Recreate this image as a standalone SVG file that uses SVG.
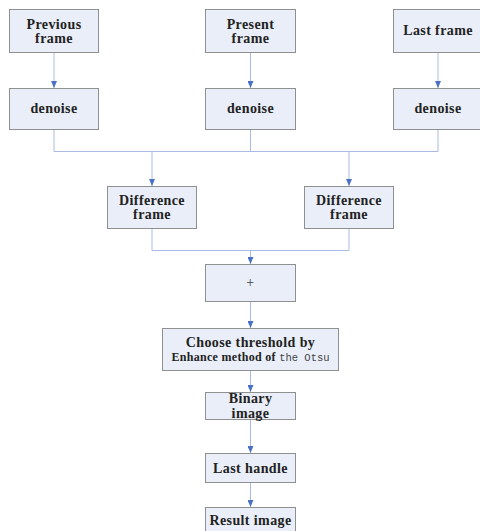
<svg xmlns="http://www.w3.org/2000/svg" width="480" height="531" viewBox="0 0 480 531">
<style>
.box{fill:#e9eef8;stroke:#8f8f8f;stroke-width:1}
.t{font-family:"Liberation Serif",serif;font-weight:bold;font-size:14px;letter-spacing:0.4px;fill:#222;text-anchor:middle}
.s{font-size:12px;letter-spacing:0.3px}
.m{font-family:"Liberation Mono",monospace;font-weight:normal;font-size:10.5px;letter-spacing:0;fill:#444}
.c{fill:none;stroke:#a9bbe2;stroke-width:1}
</style>
<defs>
<marker id="ah" markerWidth="7" markerHeight="6" refX="7" refY="3" orient="auto" markerUnits="userSpaceOnUse">
<path d="M0,0 L7,3 L0,6 Z" fill="#4a72c2"/>
</marker>
</defs>
<g id="connectors">
<line class="c" x1="54" y1="53" x2="54" y2="88" marker-end="url(#ah)"/>
<line class="c" x1="250.5" y1="53" x2="250.5" y2="88" marker-end="url(#ah)"/>
<line class="c" x1="438" y1="53" x2="438" y2="88" marker-end="url(#ah)"/>
<path class="c" d="M54,130 V151.5 H438 V130 M250.5,130 V151.5"/>
<line class="c" x1="152" y1="151.5" x2="152" y2="186" marker-end="url(#ah)"/>
<line class="c" x1="349" y1="151.5" x2="349" y2="186" marker-end="url(#ah)"/>
<path class="c" d="M152,229 V250.5 H349 V229"/>
<line class="c" x1="250.5" y1="250.5" x2="250.5" y2="264" marker-end="url(#ah)"/>
<line class="c" x1="250.5" y1="302" x2="250.5" y2="328" marker-end="url(#ah)"/>
<line class="c" x1="250.5" y1="371" x2="250.5" y2="392" marker-end="url(#ah)"/>
<line class="c" x1="250.5" y1="420" x2="250.5" y2="453" marker-end="url(#ah)"/>
<line class="c" x1="250.5" y1="483" x2="250.5" y2="507" marker-end="url(#ah)"/>
</g>
<g id="prev"><rect class="box" x="9.5" y="9.5" width="89" height="43"/><text class="t" x="54" y="29">Previous</text><text class="t" x="54" y="43">frame</text></g>
<g id="present"><rect class="box" x="205.5" y="9.5" width="90" height="43"/><text class="t" x="250.5" y="29">Present</text><text class="t" x="250.5" y="43">frame</text></g>
<g id="last"><rect class="box" x="393.5" y="9.5" width="90" height="43"/><text class="t" x="438" y="35">Last frame</text></g>
<g id="denoise1"><rect class="box" x="9.5" y="88.5" width="89" height="41"/><text class="t" x="54" y="113">denoise</text></g>
<g id="denoise2"><rect class="box" x="205.5" y="88.5" width="90" height="41"/><text class="t" x="250.5" y="113">denoise</text></g>
<g id="denoise3"><rect class="box" x="393.5" y="88.5" width="90" height="41"/><text class="t" x="438" y="113">denoise</text></g>
<g id="diff1"><rect class="box" x="107.5" y="186.5" width="89" height="42"/><text class="t" x="152" y="205">Difference</text><text class="t" x="152" y="219">frame</text></g>
<g id="diff2"><rect class="box" x="304.5" y="186.5" width="89" height="42"/><text class="t" x="349" y="205">Difference</text><text class="t" x="349" y="219">frame</text></g>
<g id="plus"><rect class="box" x="205.5" y="264.5" width="90" height="37"/><text class="t" x="250.5" y="287" style="font-weight:normal;fill:#444">+</text></g>
<g id="otsu"><rect class="box" x="162.5" y="328.5" width="176" height="42"/><text class="t" x="250.5" y="347">Choose threshold by</text><text class="t s" x="250.5" y="361">Enhance method of <tspan class="m">the Otsu</tspan></text></g>
<g id="binary"><rect class="box" x="205.5" y="392.5" width="90" height="27"/><text class="t" x="250.5" y="403">Binary</text><text class="t" x="250.5" y="418">image</text></g>
<g id="handle"><rect class="box" x="205.5" y="453.5" width="90" height="29"/><text class="t" x="250.5" y="473">Last handle</text></g>
<g id="result"><rect class="box" x="205.5" y="507.5" width="90" height="28"/><text class="t" x="250.5" y="525">Result image</text></g>
</svg>
